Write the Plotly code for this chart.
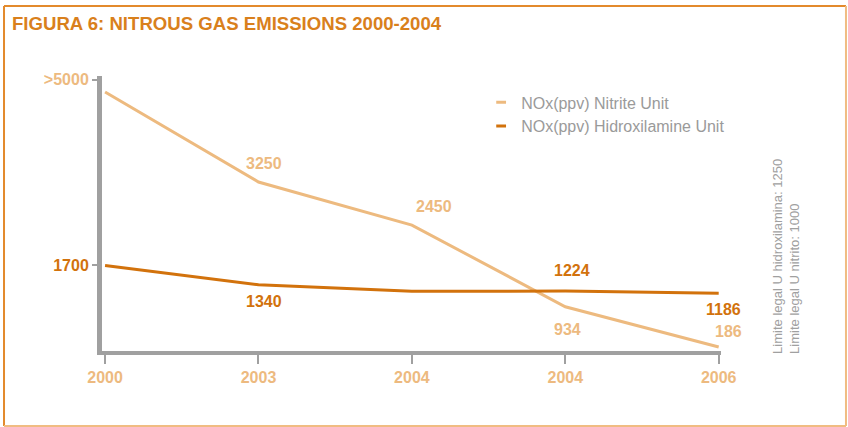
import plotly.graph_objects as go

# ---- data ----
x_labels = ["2000", "2003", "2004", "2004", "2006"]
nitrite = [4920, 3250, 2450, 934, 186]
hidroxilamine = [1700, 1340, 1222, 1224, 1186]
nitrite_labels = [None, "3250", "2450", "934", "186"]
hidrox_labels = [None, "1340", None, "1224", "1186"]
y_tick_vals = [1700, 5150]
y_tick_text = ["1700", ">5000"]
series_names = ["NOx(ppv) Nitrite Unit", "NOx(ppv) Hidroxilamine Unit"]
side_note = ["Limite legal U hidroxilamina: 1250", "Limite legal U nitrito: 1000"]

LIGHT = "#EDBA7F"
DARK = "#D2720C"
GREY = "#A0A0A0"
TITLE = "#D9801C"
FONT = "Liberation Sans, Arial, sans-serif"

xs = list(range(len(x_labels)))

fig = go.Figure()
fig.add_trace(go.Scatter(x=xs, y=nitrite, mode="lines", line=dict(color=LIGHT, width=3),
                         showlegend=False, hoverinfo="skip"))
fig.add_trace(go.Scatter(x=xs, y=hidroxilamine, mode="lines", line=dict(color=DARK, width=3),
                         showlegend=False, hoverinfo="skip"))
# legend entries (short dash symbols)
for name, col in zip(series_names, [LIGHT, DARK]):
    fig.add_trace(go.Scatter(x=[None], y=[None], mode="markers", name=name,
                             marker=dict(symbol="line-ew-open", size=7, color=col,
                                         line=dict(color=col, width=3))))

annotations = []
n_shift = [None, (6, 18), (22, 19), (2, -23), (10, 16)]
h_shift = [None, (6, -17), None, (7, 21), (5, -16)]
for i, (lab, sh) in enumerate(zip(nitrite_labels, n_shift)):
    if lab:
        annotations.append(dict(x=xs[i], y=nitrite[i], text="<b>%s</b>" % lab, showarrow=False,
                                xshift=sh[0], yshift=sh[1],
                                font=dict(family=FONT, size=16, color=LIGHT)))
for i, (lab, sh) in enumerate(zip(hidrox_labels, h_shift)):
    if lab:
        annotations.append(dict(x=xs[i], y=hidroxilamine[i], text="<b>%s</b>" % lab, showarrow=False,
                                xshift=sh[0], yshift=sh[1],
                                font=dict(family=FONT, size=16, color=DARK)))

annotations.append(dict(xref="paper", yref="paper", x=1.105, y=-0.016, xanchor="center",
                        yanchor="bottom", textangle=-90, align="left", showarrow=False,
                        text="<br>".join(side_note),
                        font=dict(family=FONT, size=13, color=GREY)))

# border around the figure
L, R, T, B = -0.1583, 1.2019, 1.2545, -0.2727
shapes = [
    dict(type="line", xref="paper", yref="paper", x0=L, x1=R, y0=T, y1=T, line=dict(color="#E38A2C", width=2)),
    dict(type="line", xref="paper", yref="paper", x0=L, x1=L, y0=T, y1=B, line=dict(color="#E38A2C", width=2)),
    dict(type="line", xref="paper", yref="paper", x0=L, x1=R, y0=B, y1=B, line=dict(color="#F0BC82", width=2)),
    dict(type="line", xref="paper", yref="paper", x0=R, x1=R, y0=T, y1=B, line=dict(color="#F0BC82", width=2)),
]

fig.update_layout(
    width=848, height=427,
    margin=dict(l=102, r=127, t=76, b=76),
    paper_bgcolor="white", plot_bgcolor="white",
    font=dict(family=FONT),
    title=dict(text="<b>FIGURA 6: NITROUS GAS EMISSIONS 2000-2004</b>", xref="container", yref="container",
               x=12 / 848, xanchor="left", y=1 - 23 / 427, yanchor="middle",
               font=dict(family=FONT, size=18.6, color=TITLE)),
    xaxis=dict(range=[-0.02, 4.015], tickmode="array", tickvals=xs,
               ticktext=["<b>%s</b>" % t for t in x_labels],
               showgrid=False, zeroline=False, showline=True, linecolor=GREY, linewidth=4,
               ticks="outside", ticklen=9, tickwidth=2, tickcolor=GREY,
               tickfont=dict(family=FONT, size=16, color=LIGHT)),
    yaxis=dict(range=[112, 5218], tickmode="array", tickvals=y_tick_vals,
               ticktext=["<span style='color:%s'><b>%s</b></span>" % (DARK, y_tick_text[0]),
                         "<span style='color:%s'><b>%s</b></span>" % (LIGHT, y_tick_text[1].replace(">", "&gt;"))],
               showgrid=False, zeroline=False, showline=True, linecolor=GREY, linewidth=5,
               ticks="outside", ticklen=5, tickwidth=2, tickcolor=GREY,
               tickfont=dict(family=FONT, size=16, color=LIGHT)),
    legend=dict(x=0.6125, y=0.966, xanchor="left", yanchor="top", bgcolor="rgba(0,0,0,0)",
                font=dict(family=FONT, size=16, color="#9A9A9A"), tracegroupgap=0),
    annotations=annotations, shapes=shapes,
)

fig.write_html("out.html", config={"displayModeBar": False},
               post_script="document.body.style.margin='0px';")
